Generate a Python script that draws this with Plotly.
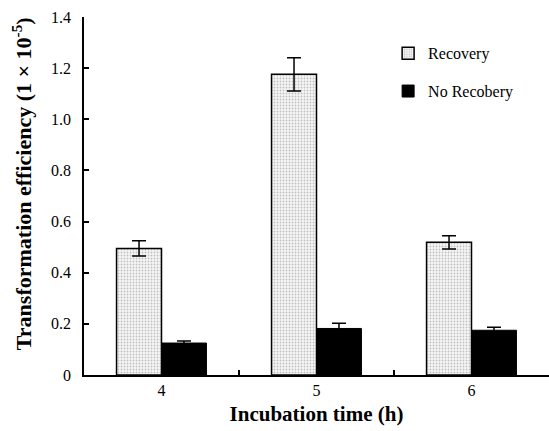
import plotly.graph_objects as go

categories = ["4", "5", "6"]
recovery = [0.495, 1.176, 0.519]
recovery_err = [0.030, 0.065, 0.026]
no_recovery = [0.125, 0.182, 0.175]
no_recovery_err = [0.008, 0.020, 0.012]
y_ticks = [0, 0.2, 0.4, 0.6, 0.8, 1.0, 1.2, 1.4]
y_tick_labels = ["0", "0.2", "0.4", "0.6", "0.8", "1.0", "1.2", "1.4"]
x_title = "Incubation time (h)"
y_title = "Transformation efficiency (1 × 10<sup>-5</sup>)"

FONT = "Liberation Serif"

fig = go.Figure()
fig.add_trace(go.Bar(
    x=categories, y=recovery, name="Recovery", legendgroup="a",
    marker=dict(color="white", line=dict(color="black", width=1.5),
                pattern=dict(shape=".", fgcolor="#8a8a8a", bgcolor="#f6f6f6",
                             size=3, solidity=0.3)),
    error_y=dict(type="data", array=recovery_err, color="black",
                 thickness=1.5, width=7),
))
fig.add_trace(go.Bar(
    x=categories, y=no_recovery, name="No Recobery", legendgroup="b",
    marker=dict(color="black", line=dict(color="black", width=1)),
    error_y=dict(type="data", array=no_recovery_err, color="black",
                 thickness=1.5, width=7),
))

fig.update_layout(
    width=549, height=431,
    margin=dict(l=84, r=0, t=17, b=56),
    paper_bgcolor="white", plot_bgcolor="white",
    barmode="group", bargap=0.42, bargroupgap=0,
    font=dict(family=FONT, size=15, color="black"),
    legend=dict(x=0.654, y=0.946, xanchor="left", yanchor="top",
                font=dict(family=FONT, size=16), tracegroupgap=14,
                traceorder="grouped", bgcolor="rgba(0,0,0,0)"),
    xaxis=dict(
        type="category", range=[-0.5, 2.5], automargin=False,
        showline=True, linecolor="black", linewidth=1.5,
        ticks="inside", ticklen=5, tickwidth=1.5, tickcolor="black",
        tickson="boundaries", showgrid=False,
        tickfont=dict(family=FONT, size=16),
        title=dict(text="<b>" + x_title + "</b>",
                   font=dict(family=FONT, size=21), standoff=8),
    ),
    yaxis=dict(
        range=[0, 1.4], tickvals=y_ticks, ticktext=y_tick_labels,
        automargin=False,
        showline=True, linecolor="black", linewidth=1.5,
        ticks="inside", ticklen=5, tickwidth=1.5, tickcolor="black",
        ticklabelstandoff=8,
        showgrid=False, zeroline=False,
        tickfont=dict(family=FONT, size=16),
    ),
    annotations=[dict(
        text="<b>" + y_title + "</b>", textangle=-90,
        xref="paper", yref="paper", x=-0.1333, y=0.533,
        xanchor="center", yanchor="middle", showarrow=False,
        font=dict(family=FONT, size=22, color="black"),
    )],
)

fig.write_html("out.html", config={"displayModeBar": False},
               post_script="document.body.style.margin='0';")
